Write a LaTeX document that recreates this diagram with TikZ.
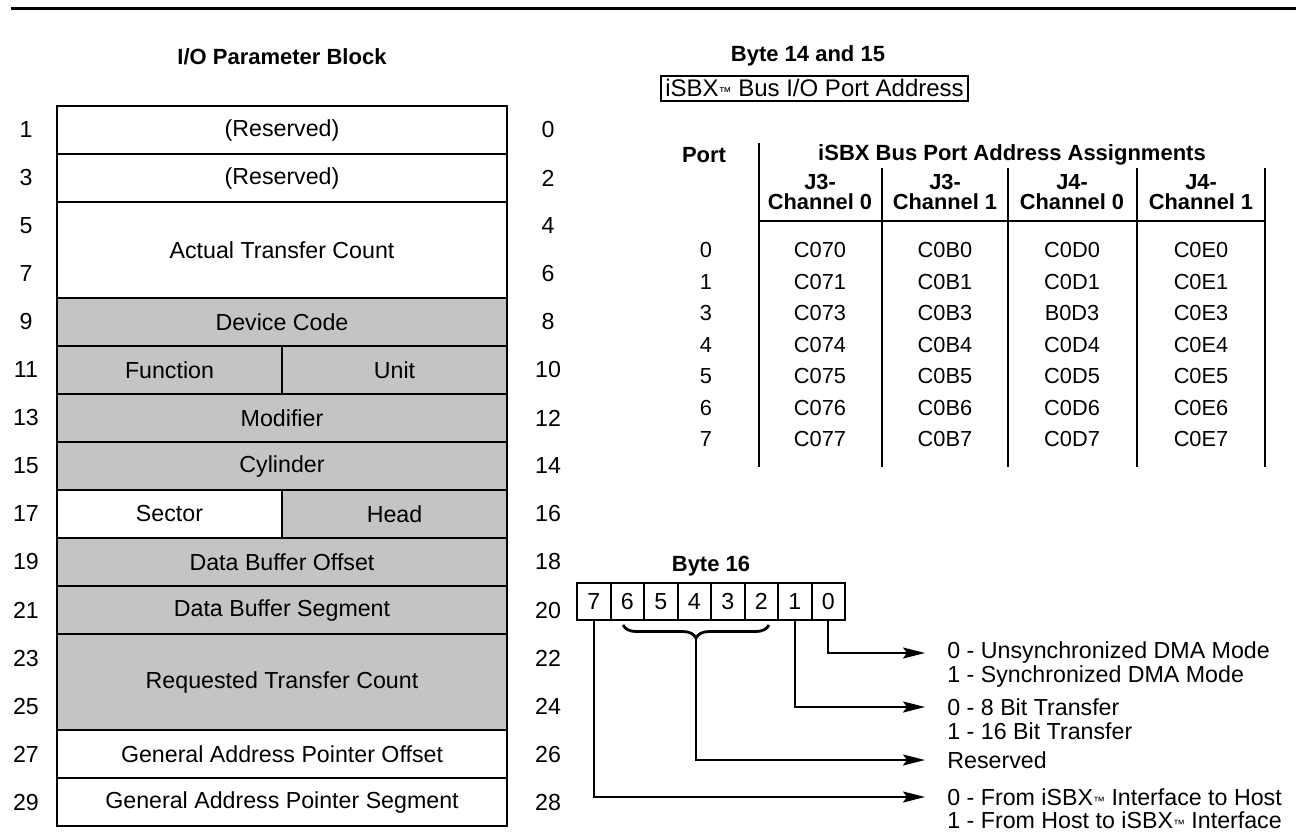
\documentclass[tikz,border=0pt]{standalone}
\usepackage{fontspec}
\setmainfont{Liberation Sans}
\usetikzlibrary{arrows.meta,decorations.pathreplacing}
\definecolor{shadegray}{gray}{0.77}
\newcommand\fmain{\fontsize{11.6pt}{13pt}\selectfont}
\newcommand\ftab{\fontsize{10.9pt}{12pt}\selectfont}
\newcommand\fbld{\fontsize{11pt}{13pt}\selectfont\bfseries}
\newcommand\fhdr{\fontsize{10.9pt}{10pt}\selectfont\bfseries}
\newcommand\tmk{{\fontsize{6pt}{6pt}\selectfont ™}}
\begin{document}
\begin{tikzpicture}[x=0.5pt,y=-0.5pt,
  fld/.style={draw, line width=1.3pt, inner sep=0pt, minimum width=225pt, minimum height=24pt, font=\fmain},
  halffld/.style={fld, minimum width=112.5pt},
  shd/.style={fill=shadegray},
  num/.style={font=\fmain, inner sep=0pt},
  ttl/.style={font=\fbld, inner sep=0pt},
  hdr/.style={font=\fhdr, inner sep=0pt, align=center},
  tab/.style={font=\ftab, inner sep=0pt},
  bitcell/.style={draw, line width=1pt, inner sep=0pt, minimum width=16.75pt, minimum height=18.5pt, font=\fmain},
  rule/.style={line width=1pt},
  arr/.style={line width=1pt, -{Stealth[length=11pt,width=5.5pt,inset=2pt]}},
  desc/.style={font=\fmain, inner sep=0pt, anchor=west}
]
\useasboundingbox (0,0) rectangle (1305,831);
\fill[white] (0,0) rectangle (1305,831);

% top rule
\coordinate (tl) at (11,8);
\coordinate (tr) at (1296,8);
\draw[line width=1.5pt] (tl) -- (tr);

% ---------------- I/O parameter block
\node[ttl] (tblk) at (282,57) {I/O Parameter Block};

\node[fld] (f0) at (282,130) {(Reserved)};
\node[fld] (f1) at (282,178) {(Reserved)};
\node[fld, minimum height=48pt] (f2) at (282,250) {Actual Transfer Count};
\node[fld,shd] (f4) at (282,322) {Device Code};
\node[halffld,shd] (ffn) at (169.5,370) {Function};
\node[halffld,shd] (fun) at (394.5,370) {Unit};
\node[fld,shd] (f6) at (282,418) {Modifier};
\node[fld,shd] (f7) at (282,466) {Cylinder};
\node[halffld] (fsec) at (169.5,514) {Sector};
\node[halffld,shd] (fhd) at (394.5,514) {Head};
\node[fld,shd] (f9) at (282,562) {Data Buffer Offset};
\node[fld,shd] (f10) at (282,610) {Data Buffer Segment};
\node[fld,shd,minimum height=48pt] (f11) at (282,682) {Requested Transfer Count};
\node[fld] (f13) at (282,754) {General Address Pointer Offset};
\node[fld] (f14) at (282,802) {General Address Pointer Segment};

\foreach \i in {0,...,14}{
  \pgfmathtruncatemacro\L{2*\i+1}
  \pgfmathtruncatemacro\R{2*\i}
  \node[num] (ln\i) at (26,{130+48*\i}) {\L};
  \node[num] (rn\i) at (548,{130+48*\i}) {\R};
}

% ---------------- Byte 14 and 15
\node[ttl] (tb14) at (808,56) {Byte 14 and 15};
\node[draw, line width=1pt, minimum width=151.5pt, minimum height=12.5pt, inner xsep=2pt, inner ysep=0pt,
      font=\fontsize{12pt}{14pt}\selectfont] (isbx) at (814.5,88) {iSBX{\fontsize{6.5pt}{6.5pt}\selectfont ™} Bus I/O Port Address};

\node[ttl] (port) at (704,155) {Port};
\node[ttl] (ahdr) at (1012,155) {iSBX Bus Port Address Assignments};
\node[hdr] (h1) at (820,192) {J3-\\Channel 0};
\node[hdr] (h2) at (945,192) {J3-\\Channel 1};
\node[hdr] (h3) at (1072,192) {J4-\\Channel 0};
\node[hdr] (h4) at (1201,192) {J4-\\Channel 1};

\coordinate (v0t) at (759,143); \coordinate (v0b) at (759,467);
\coordinate (v1t) at (882,168); \coordinate (v1b) at (882,467);
\coordinate (v2t) at (1008,168); \coordinate (v2b) at (1008,467);
\coordinate (v3t) at (1137,168); \coordinate (v3b) at (1137,467);
\coordinate (v4t) at (1265,168); \coordinate (v4b) at (1265,467);
\coordinate (ul) at (759,221); \coordinate (ur) at (1265,221);
\draw[rule] (v0t) -- (v0b);
\draw[rule] (v1t) -- (v1b);
\draw[rule] (v2t) -- (v2b);
\draw[rule] (v3t) -- (v3b);
\draw[rule] (v4t) -- (v4b);
\draw[rule] (ul) -- (ur);

\foreach \p/\a/\b/\c/\d [count=\k from 0] in
  {0/C070/C0B0/C0D0/C0E0, 1/C071/C0B1/C0D1/C0E1, 3/C073/C0B3/B0D3/C0E3,
   4/C074/C0B4/C0D4/C0E4, 5/C075/C0B5/C0D5/C0E5, 6/C076/C0B6/C0D6/C0E6,
   7/C077/C0B7/C0D7/C0E7}{
  \node[tab] (p\k) at (706,{250+31.5*\k}) {\p};
  \node[tab] (ca\k) at (820,{250+31.5*\k}) {\a};
  \node[tab] (cb\k) at (945,{250+31.5*\k}) {\b};
  \node[tab] (cc\k) at (1072,{250+31.5*\k}) {\c};
  \node[tab] (cd\k) at (1201,{250+31.5*\k}) {\d};
}

% ---------------- Byte 16
\node[ttl] (tb16) at (711,566) {Byte 16};
\foreach \j in {0,...,7}{
  \pgfmathtruncatemacro\bit{7-\j}
  \node[bitcell] (b\bit) at ({577+33.5*(\j+0.5)},601.5) {\bit};
}
\draw[line width=1.4pt, decorate, decoration={brace, mirror, amplitude=6.5pt}]
  (623,625) -- (769,625);
\coordinate (btip) at (696,639);

\coordinate (e0) at (925,653);
\coordinate (e1) at (925,707);
\coordinate (er) at (925,760);
\coordinate (e7) at (925,797);

\draw[arr] (b0.south) |- (e0);
\draw[arr] (b1.south) |- (e1);
\draw[arr] (btip) |- (er);
\draw[arr] (b7.south) |- (e7);

\node[desc] (d0a) at (947,652) {0 - Unsynchronized DMA Mode};
\node[desc] (d0b) at (947,676) {1 - Synchronized DMA Mode};
\node[desc] (d1a) at (947,707) {0 - 8 Bit Transfer};
\node[desc] (d1b) at (947,731) {1 - 16 Bit Transfer};
\node[desc] (dr) at (947,760) {Reserved};
\node[desc] (d7a) at (947,797) {0 - From iSBX\tmk\ Interface to Host};
\node[desc] (d7b) at (947,820) {1 - From Host to iSBX\tmk\ Interface};
\end{tikzpicture}
\end{document}
